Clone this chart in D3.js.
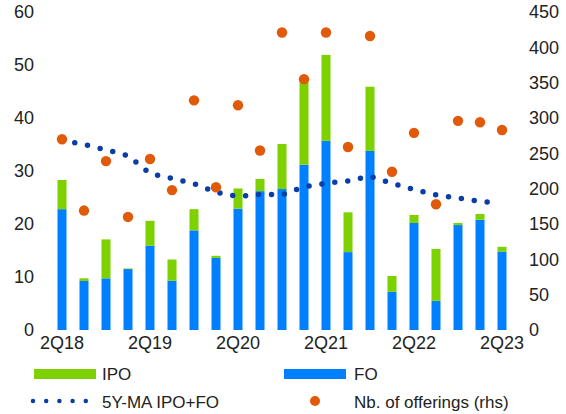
<!DOCTYPE html>
<html><head><meta charset="utf-8">
<script src="https://cdn.jsdelivr.net/npm/d3@7"></script>
<style>body{margin:0;background:#fff}svg{display:block;font-family:"Liberation Sans",Arial,sans-serif}</style>
</head><body>
<script>
const quarters = ["2Q18","3Q18","4Q18","1Q19","2Q19","3Q19","4Q19","1Q20","2Q20","3Q20","4Q20","1Q21","2Q21","3Q21","4Q21","1Q22","2Q22","3Q22","4Q22","1Q23","2Q23"];
const foValues  = [22.8,9.25,9.75,11.5,15.9,9.3,18.8,13.6,22.9,26.2,26.6,31.2,35.7,14.7,33.8,7.2,20.2,5.5,19.8,20.8,14.8];
const ipoValues = [5.5,0.5,7.35,0.1,4.7,4.0,4.0,0.4,3.8,2.3,8.5,16.0,16.2,7.5,12.1,3.0,1.5,9.8,0.4,1.1,0.9];
const ma5y      = [35.8,35.0,34.0,32.9,29.5,28.6,27.6,26.0,25.2,25.6,25.5,27.0,27.7,28.1,29.0,27.7,26.5,25.5,24.9,24.3,23.8];
const offerings = [270,169,239,160,242,198,325,202,318,254,421,355,421,259,416,224,279,178,296,294,283];
const leftTicks = [0,10,20,30,40,50,60];
const rightTicks = [0,50,100,150,200,250,300,350,400,450];
const xTickLabels = ["2Q18","2Q19","2Q20","2Q21","2Q22","2Q23"];

const W = 566, H = 414;
const C = {ipo:"#7ed100", fo:"#0080ff", ma:"#0a3ea6", nb:"#e05a0a"};
const svg = d3.select("body").append("svg").attr("width",W).attr("height",H);

const x = d3.scaleBand().domain(quarters).range([51,513]).paddingInner(0.59).paddingOuter(0.295);
const y = d3.scaleLinear().domain([0,60]).range([330,12]);
const y2 = d3.scaleLinear().domain([0,450]).range([330,12]);
const cx = q => x(q) + x.bandwidth()/2;

// bars
const g = svg.append("g");
g.selectAll("rect.fo").data(quarters).join("rect").attr("class","fo")
  .attr("x", d=>x(d)).attr("width", x.bandwidth())
  .attr("y", (d,i)=>y(foValues[i])).attr("height",(d,i)=>y(0)-y(foValues[i]))
  .attr("fill", C.fo);
g.selectAll("rect.ipo").data(quarters).join("rect").attr("class","ipo")
  .attr("x", d=>x(d)).attr("width", x.bandwidth())
  .attr("y", (d,i)=>y(foValues[i]+ipoValues[i])).attr("height",(d,i)=>y(foValues[i])-y(foValues[i]+ipoValues[i]))
  .attr("fill", C.ipo);

// 5Y MA dotted line
const line = d3.line().x((d,i)=>cx(quarters[i])).y(d=>y(d));
const maPath = g.append("path").datum(ma5y).attr("d", line).attr("fill","none")
  .attr("stroke", C.ma).attr("stroke-width",5.5).attr("stroke-linecap","round");
const L = maPath.node().getTotalLength();
const nDots = Math.floor((L - 9) / 13);
const dash = [];
for (let k = 0; k < nDots; k++) dash.push(0, 13);
dash.push(0, L + 20);
maPath.attr("stroke-dasharray", dash.join(","));

// offerings dots
g.selectAll("circle.nb").data(quarters).join("circle").attr("class","nb")
  .attr("cx", d=>cx(d)).attr("cy",(d,i)=>y2(offerings[i])).attr("r",5.2).attr("fill",C.nb);

// axes
const axL = svg.append("g").attr("transform","translate(34,0)")
  .call(d3.axisLeft(y).tickValues(leftTicks).tickSize(0).tickPadding(0));
const axR = svg.append("g").attr("transform","translate(529,0)")
  .call(d3.axisRight(y2).tickValues(rightTicks).tickSize(0).tickPadding(0));
const axB = svg.append("g").attr("transform","translate(0,336)")
  .call(d3.axisBottom(x).tickValues(xTickLabels).tickSize(0).tickPadding(0));
[axL,axR,axB].forEach(a=>{a.select(".domain").remove();
  a.selectAll("text").attr("font-family","Liberation Sans, Arial, sans-serif").attr("font-size",18).attr("fill","#222");});
axB.selectAll("text").attr("dy","0.71em");

// legend
const lg = svg.append("g").attr("font-size",17).attr("fill","#222");
lg.append("rect").attr("x",34).attr("y",369).attr("width",62).attr("height",10).attr("fill",C.ipo);
lg.append("text").attr("x",102).attr("y",380).text("IPO");
lg.append("rect").attr("x",284).attr("y",369).attr("width",62).attr("height",10).attr("fill",C.fo);
lg.append("text").attr("x",354).attr("y",380).text("FO");
lg.append("line").attr("x1",33).attr("x2",86).attr("y1",401).attr("y2",401)
  .attr("stroke",C.ma).attr("stroke-width",4.5).attr("stroke-linecap","round").attr("stroke-dasharray","0,13.2");
lg.append("text").attr("x",102).attr("y",408).text("5Y-MA IPO+FO");
lg.append("circle").attr("cx",315).attr("cy",401).attr("r",5).attr("fill",C.nb);
lg.append("text").attr("x",354).attr("y",408).text("Nb. of offerings (rhs)");
</script>
</body></html>
